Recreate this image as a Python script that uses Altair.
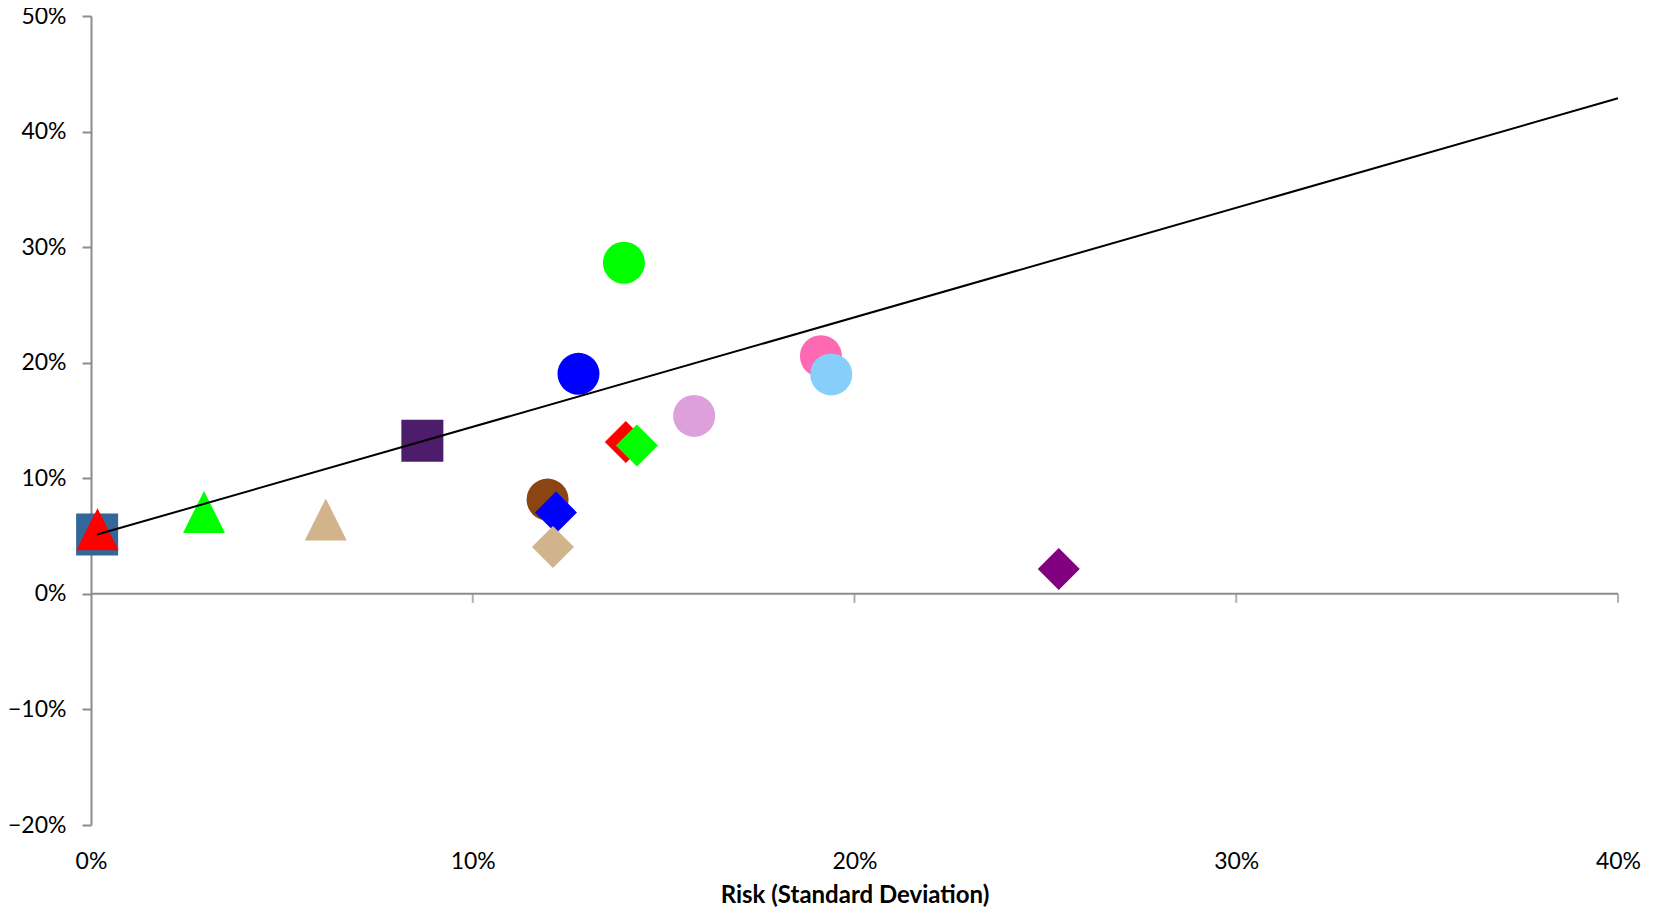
import altair as alt
import pandas as pd

TRI = "M0,-1L1,1L-1,1Z"

# Assets (drawing order matters for overlaps)
ids = ["a01", "a02", "a03", "a04", "a05", "a06", "a07", "a08",
       "a09", "a10", "a11", "a12", "a13", "a14", "a15", "a16"]
risk = [0.0016, 0.0017, 0.0296, 0.0615, 0.0868, 0.1396, 0.1277, 0.1580,
        0.1401, 0.1430, 0.1196, 0.1218, 0.1210, 0.1912, 0.1939, 0.2535]
ret = [0.0513, 0.0558, 0.0709, 0.0644, 0.1324, 0.2865, 0.1904, 0.1540,
       0.1315, 0.1284, 0.0816, 0.0704, 0.0406, 0.2057, 0.1899, 0.0216]
colors = ["#336699", "#FF0000", "#00FF00", "#D2B48C", "#4D1C6B", "#00FF00",
          "#0000FF", "#DDA0DD", "#FF0000", "#00FF00", "#8B4513", "#0000FF",
          "#D2B48C", "#FF69B4", "#87CEFA", "#800080"]
shapes = ["square", TRI, TRI, TRI, "square", "circle", "circle", "circle",
          "diamond", "diamond", "circle", "diamond", "diamond", "circle",
          "circle", "diamond"]

# Capital market line end points
cml_x = [0.0016, 0.40]
cml_y = [0.0513, 0.4288]

x_ticks = [0.0, 0.1, 0.2, 0.3, 0.4]
y_ticks = [-0.2, -0.1, 0.0, 0.1, 0.2, 0.3, 0.4, 0.5]

GRAY = "#8C8C8C"
FONT = "Lato"

pts = pd.DataFrame({"id": ids, "risk": risk, "ret": ret, "color": colors,
                    "shape": shapes, "order": list(range(len(ids)))})
line_df = pd.DataFrame({"risk": cml_x, "ret": cml_y})
zero_df = pd.DataFrame({"x0": [0.0], "x1": [0.4]})
xt_df = pd.DataFrame({"risk": x_ticks[1:]})

x_scale = alt.Scale(domain=[0, 0.4], nice=False, zero=False)
y_scale = alt.Scale(domain=[-0.2, 0.5], nice=False, zero=False)

x_axis = alt.Axis(format=".0%", values=x_ticks, ticks=False, tickSize=0,
                  domain=False, grid=False, labelFont=FONT, labelFontSize=23,
                  labelColor="black", labelPadding=43,
                  labelBaseline="alphabetic", labelFlush=False,
                  labelOverlap=False, title="Risk (Standard Deviation)",
                  titleFont=FONT, titleFontSize=24, titleFontWeight="bold",
                  titleColor="black", titleY=77, titleBaseline="alphabetic")
y_axis = alt.Axis(format=".0%", values=y_ticks, ticks=True, tickSize=9,
                  tickWidth=2, tickColor=GRAY, domainColor=GRAY,
                  domainWidth=2, grid=False, labelFont=FONT,
                  labelFontSize=23, labelColor="black", labelPadding=16,
                  labelFlush=False, labelOverlap=False, title=None)

zero_rule = alt.Chart(zero_df).mark_rule(color=GRAY, strokeWidth=2).encode(
    x=alt.X("x0:Q", scale=x_scale, axis=x_axis),
    x2="x1:Q",
    y=alt.Y(datum=0, scale=y_scale, axis=y_axis),
)

xticks = alt.Chart(xt_df).mark_tick(orient="vertical", size=9, thickness=2,
                                     yOffset=4.5, color=GRAY).encode(
    x=alt.X("risk:Q", scale=x_scale),
    y=alt.Y(datum=0, scale=y_scale),
)

points = alt.Chart(pts).mark_point(filled=True, opacity=1, size=1764,
                                   strokeWidth=0).encode(
    x=alt.X("risk:Q", scale=x_scale),
    y=alt.Y("ret:Q", scale=y_scale),
    color=alt.Color("color:N", scale=None),
    shape=alt.Shape("shape:N", scale=None),
    order=alt.Order("order:Q"),
)

line = alt.Chart(line_df).mark_line(color="black", strokeWidth=2).encode(
    x=alt.X("risk:Q", scale=x_scale),
    y=alt.Y("ret:Q", scale=y_scale),
)

chart = alt.layer(zero_rule, xticks, points, line).properties(
    width=1527, height=809,
    background="white",
    autosize=alt.AutoSizeParams(type="none"),
    padding={"left": 83, "top": 8, "right": 30, "bottom": 82},
).configure_view(stroke=None, strokeWidth=0)

chart.save("out.html", embed_options={"renderer": "svg", "actions": False})
